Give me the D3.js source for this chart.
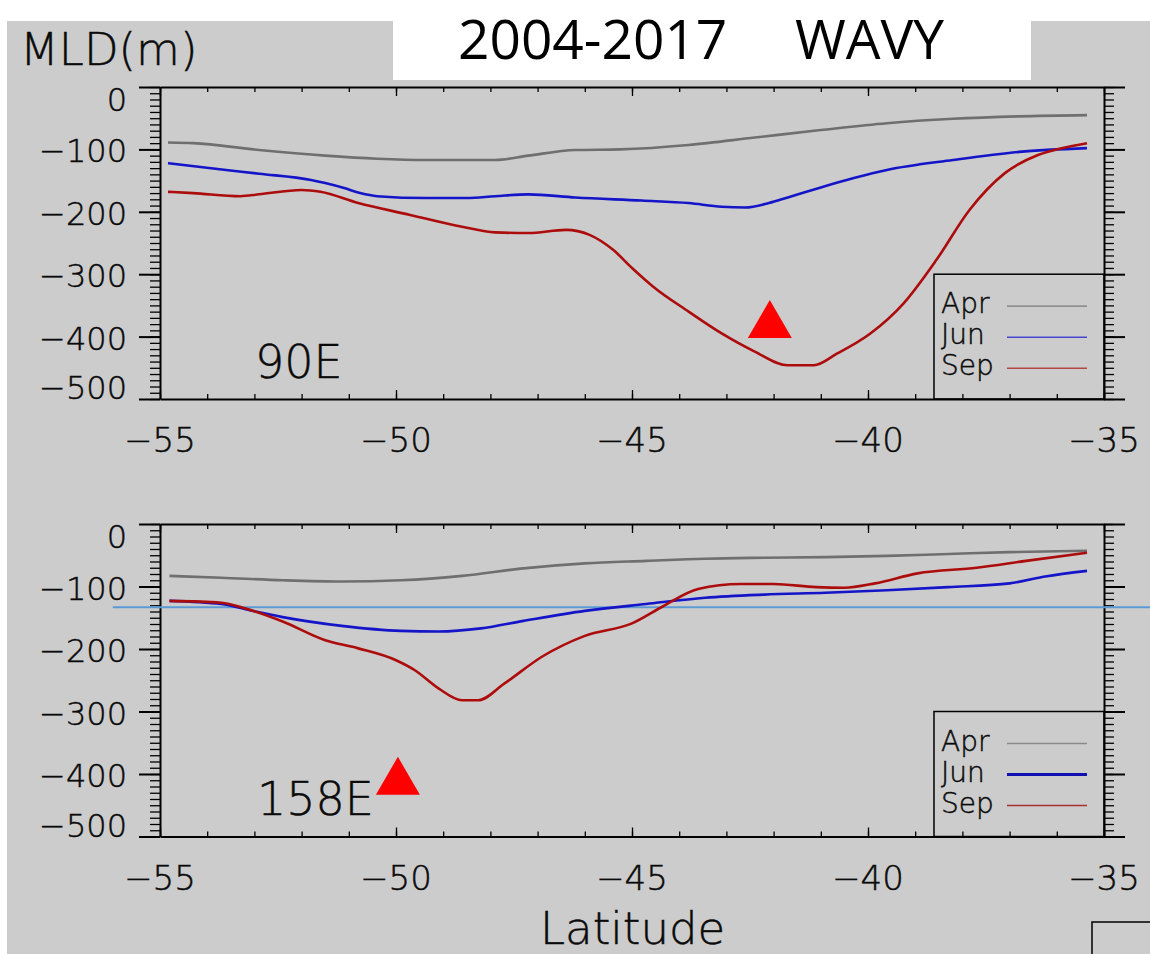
<!DOCTYPE html>
<html>
<head>
<meta charset="utf-8">
<script src="https://cdn.jsdelivr.net/npm/d3@7"></script>
<style>
  body { margin: 0; background: #ffffff; }
  svg { display: block; }
  .lbl { font-family: "DejaVu Sans", sans-serif; fill: #0a0a0a; stroke: #0a0a0a; stroke-width: 0.45; }
</style>
</head>
<body>
<svg id="chart" width="1150" height="954"></svg>
<script>
// ---- Mixed layer depth (m) along latitude, 2004-2017 ----
const latTicksMajor = [-55, -50, -45, -40, -35];
const latTicksMinor = d3.range(-55, -34, 1);
const mldTicksMajor = [0, -100, -200, -300, -400, -500];
const mldTicksMinor = d3.range(0, -501, -10);

// 90E section
const apr90Lat = [-54.83, -54.3, -52.9, -51.5, -50.4, -49.35, -47.9, -47.2, -46.2, -45.25, -43.8, -42.4, -41.0, -39.6, -38.2, -36.8, -35.36];
const apr90 = [-89, -90, -101, -110, -115, -117, -117, -110, -101, -100, -93, -81, -69, -58, -51, -47, -45];

const jun90Lat = [-54.83, -53.6, -52.9, -51.8, -51.5, -51.1, -50.76, -50.4, -49.35, -48.5, -47.9, -47.2, -46.2, -44.8, -43.8, -43.1, -42.6, -42.1, -41.7, -41.0, -40.3, -39.6, -38.2, -36.8, -35.36];
const jun90 = [-122, -133, -139, -149, -154, -162, -170, -175, -178, -178, -175, -172, -177, -182, -186, -192, -193, -186, -177, -161, -146, -133, -117, -104, -98];

const sep90Lat = [-54.83, -54.3, -53.3, -52.9, -52.0, -51.6, -50.8, -49.7, -48.6, -47.9, -47.2, -46.4, -45.9, -45.4, -45.0, -44.55, -43.8, -43.1, -42.4, -41.7, -41.15, -40.65, -39.95, -39.25, -38.55, -37.85, -37.1, -36.4, -35.9, -35.36];
const sep90 = [-168, -170, -175, -172, -165, -168, -186, -205, -224, -233, -234, -229, -237, -261, -290, -320, -360, -395, -424, -446, -446, -427, -395, -347, -277, -197, -138, -109, -98, -90];

// 158E section
const apr158Lat = [-54.8, -53.7, -52.4, -51.15, -49.9, -48.6, -47.3, -46.0, -44.7, -43.45, -42.2, -40.9, -39.6, -38.3, -37.0, -35.36];
const apr158 = [-83, -86, -90, -92, -90, -83, -71, -63, -59, -55.5, -54, -53, -51, -48, -45, -43];

const jun158Lat = [-54.8, -53.7, -53.1, -52.4, -51.15, -49.9, -49.1, -48.2, -47.3, -46.0, -44.7, -43.45, -42.2, -40.9, -39.6, -38.3, -37.0, -36.25, -35.36];
const jun158 = [-123, -128, -138, -149, -163, -171, -172, -167, -155, -139, -128, -118, -113, -110, -106, -101, -95, -84, -75];

const sep158Lat = [-54.8, -53.7, -53.2, -52.4, -51.5, -50.8, -50.0, -49.6, -49.1, -48.6, -48.26, -47.7, -46.9, -46.0, -45.0, -44.35, -43.6, -42.7, -42.0, -41.1, -40.5, -39.85, -38.95, -37.7, -36.65, -35.36];
const sep158 = [-123, -126, -135, -156, -186, -199, -218, -234, -263, -282, -282, -255, -212, -179, -159, -132, -104, -96, -96, -101, -102, -95, -79, -70, -59, -46];

// markers (lat, depth of triangle centre)
const marker90 = [-42.08, -382];
const marker158 = [-49.96, -413];

// reference depth drawn across the 158E panel
const refDepth158 = -133;
const refLatSpan = [-56, -34];

const months = ["Apr", "Jun", "Sep"];
const lineColors = { Apr: "#6f6f6f", Jun: "#1414c8", Sep: "#ad0c0c" };

const svg = d3.select("#chart");

// backdrop
svg.append("rect").attr("x", 7).attr("y", 21).attr("width", 1143).attr("height", 933).attr("fill", "#cccccc");
svg.append("rect").attr("x", 393).attr("y", 0).attr("width", 638).attr("height", 80).attr("fill", "#ffffff");

// title
svg.append("text").attr("x", 458).attr("y", 59)
  .attr("font-family", '"Open Sans", sans-serif').attr("font-size", 55).attr("fill", "#000")
  .text("2004-2017");
svg.append("text").attr("x", 795).attr("y", 59)
  .attr("font-family", '"Open Sans", sans-serif').attr("font-size", 55).attr("fill", "#000")
  .text("WAVY");

// y-axis title
svg.append("text").attr("class", "lbl").attr("x", 20).attr("y", 65)
  .attr("font-size", 45).attr("font-weight", 200).text("MLD(m)");

const x = d3.scaleLinear().domain([-55, -35]).range([160, 1104]);

function zip(lat, v) { return lat.map((d, i) => ({ lat: d, v: v[i] })); }

function drawPanel(cfg) {
  const y = d3.scaleLinear().domain([0, -500]).range([cfg.top, cfg.bottom]);
  const g = svg.append("g");

  // y axes, ticks pointing outward
  const yAxes = [
    { axis: d3.axisLeft, pos: x(-55) },
    { axis: d3.axisRight, pos: x(-35) }
  ];
  yAxes.forEach(a => {
    const minor = g.append("g").attr("transform", `translate(${a.pos},0)`)
      .call(a.axis(y).tickValues(mldTicksMinor).tickSize(10).tickSizeOuter(0).tickFormat(""));
    minor.selectAll(".tick line").attr("stroke", "#000").attr("stroke-width", 1.3);
    minor.select(".domain").attr("stroke", "#000").attr("stroke-width", 2);
    const major = g.append("g").attr("transform", `translate(${a.pos},0)`)
      .call(a.axis(y).tickValues(mldTicksMajor).tickSize(21).tickSizeOuter(0).tickFormat(""));
    major.selectAll(".tick line").attr("stroke", "#000").attr("stroke-width", 2);
    major.select(".domain").remove();
  });

  // x axes on top and bottom of the frame, ticks pointing inward
  const xAxes = [
    { axis: d3.axisBottom, pos: cfg.top },
    { axis: d3.axisTop, pos: cfg.bottom }
  ];
  xAxes.forEach(a => {
    const minor = g.append("g").attr("transform", `translate(0,${a.pos})`)
      .call(a.axis(x).tickValues(latTicksMinor).tickSize(5).tickSizeOuter(0).tickFormat(""));
    minor.selectAll(".tick line").attr("stroke", "#000").attr("stroke-width", 1.3);
    minor.select(".domain").attr("stroke", "#000").attr("stroke-width", 2.2);
    const major = g.append("g").attr("transform", `translate(0,${a.pos})`)
      .call(a.axis(x).tickValues(latTicksMajor).tickSize(9).tickSizeOuter(0).tickFormat(""));
    major.selectAll(".tick line").attr("stroke", "#000").attr("stroke-width", 1.3);
    major.select(".domain").remove();
  });

  // y tick labels (end labels sit inside the frame height)
  g.selectAll("text.ylab").data(mldTicksMajor).enter().append("text")
    .attr("class", "lbl ylab")
    .attr("x", 127)
    .attr("y", d => y(d) + (d === 0 ? 13 : d === -500 ? -11 : 2))
    .attr("dominant-baseline", "central")
    .attr("text-anchor", "end")
    .attr("font-size", 32).attr("font-weight", 200)
    .text(d => d === 0 ? "0" : "\u2212" + Math.abs(d));

  // x tick labels
  g.selectAll("text.xlab").data(latTicksMajor).enter().append("text")
    .attr("class", "lbl xlab")
    .attr("x", d => x(d))
    .attr("y", cfg.bottom + 41)
    .attr("dominant-baseline", "central")
    .attr("text-anchor", "middle")
    .attr("font-size", 34).attr("font-weight", 200)
    .text(d => "\u2212" + Math.abs(d));

  // reference depth
  if (cfg.refDepth !== undefined) {
    g.append("line")
      .attr("x1", x(refLatSpan[0])).attr("x2", x(refLatSpan[1]))
      .attr("y1", y(cfg.refDepth)).attr("y2", y(cfg.refDepth))
      .attr("stroke", "#5b9bd5").attr("stroke-width", 2);
  }

  // MLD curves
  const line = d3.line().x(d => x(d.lat)).y(d => y(d.v)).curve(d3.curveMonotoneX);
  cfg.series.forEach(s => {
    g.append("path").datum(s.data)
      .attr("fill", "none").attr("stroke", lineColors[s.name])
      .attr("stroke-width", 2.6).attr("stroke-linejoin", "round")
      .attr("d", line);
  });

  // section label
  g.append("text").attr("class", "lbl").attr("x", cfg.labelX).attr("y", cfg.labelY)
    .attr("font-size", 46).attr("font-weight", 200).text(cfg.label);

  // triangle marker
  g.append("path")
    .attr("d", d3.symbol().type(d3.symbolTriangle).size(838)())
    .attr("transform", `translate(${x(cfg.marker[0])},${y(cfg.marker[1])})`)
    .attr("fill", "#ff0000");

  // legend
  const lg = g.append("g");
  lg.append("rect")
    .attr("x", 934).attr("y", y(-300))
    .attr("width", x(-35) - 934).attr("height", y(-500) - y(-300))
    .attr("fill", "none").attr("stroke", "#000").attr("stroke-width", 1.5);
  months.forEach((m, i) => {
    const base = y(-300) + 39 + i * 31;
    lg.append("text").attr("class", "lbl").attr("x", 941).attr("y", base)
      .attr("font-size", 28).attr("font-weight", 200).text(m);
    const st = cfg.legendStyle[m];
    lg.append("line").attr("x1", 1007).attr("x2", 1087)
      .attr("y1", base - 7).attr("y2", base - 7)
      .attr("stroke", st.color).attr("stroke-width", st.width);
  });
}

drawPanel({
  top: 87, bottom: 399,
  label: "90E", labelX: 255, labelY: 378,
  marker: marker90,
  series: [
    { name: "Apr", data: zip(apr90Lat, apr90) },
    { name: "Jun", data: zip(jun90Lat, jun90) },
    { name: "Sep", data: zip(sep90Lat, sep90) }
  ],
  legendStyle: {
    Apr: { color: "#7a7a7a", width: 1.3 },
    Jun: { color: "#4646d2", width: 1.6 },
    Sep: { color: "#b44646", width: 1.6 }
  }
});

drawPanel({
  top: 524, bottom: 836.5,
  label: "158E", labelX: 257, labelY: 815,
  marker: marker158,
  refDepth: refDepth158,
  series: [
    { name: "Apr", data: zip(apr158Lat, apr158) },
    { name: "Jun", data: zip(jun158Lat, jun158) },
    { name: "Sep", data: zip(sep158Lat, sep158) }
  ],
  legendStyle: {
    Apr: { color: "#8a8a8a", width: 1.5 },
    Jun: { color: "#1010b0", width: 3 },
    Sep: { color: "#a83030", width: 1.4 }
  }
});

// x-axis title
svg.append("text").attr("class", "lbl").attr("x", 540).attr("y", 944)
  .attr("font-size", 45).attr("font-weight", 200).text("Latitude");

// corner frame
svg.append("path").attr("d", "M1092,954V922H1150")
  .attr("fill", "none").attr("stroke", "#000").attr("stroke-width", 1.5);
</script>
</body>
</html>
